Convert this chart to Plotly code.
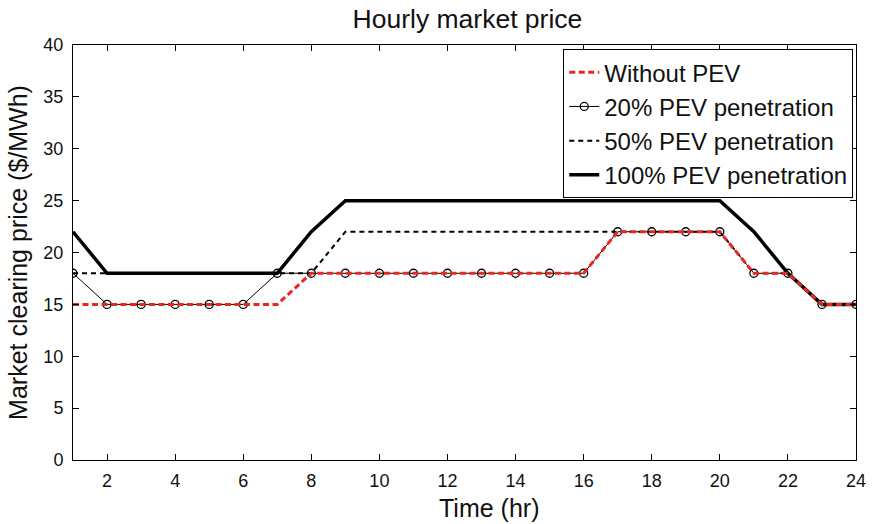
import plotly.graph_objects as go

hours = list(range(1, 25))
without_pev = [15, 15, 15, 15, 15, 15, 15, 18, 18, 18, 18, 18, 18, 18, 18, 18, 22, 22, 22, 22, 18, 18, 15, 15]
pev20 = [18, 15, 15, 15, 15, 15, 18, 18, 18, 18, 18, 18, 18, 18, 18, 18, 22, 22, 22, 22, 18, 18, 15, 15]
pev50 = [18, 18, 18, 18, 18, 18, 18, 18, 22, 22, 22, 22, 22, 22, 22, 22, 22, 22, 22, 22, 18, 18, 15, 15]
pev100 = [22, 18, 18, 18, 18, 18, 18, 22, 25, 25, 25, 25, 25, 25, 25, 25, 25, 25, 25, 25, 22, 18, 15, 15]

x_ticks = list(range(2, 25, 2))
y_ticks = list(range(0, 41, 5))

fig = go.Figure()
fig.add_trace(go.Scatter(x=hours, y=pev100, mode="lines", name="100% PEV penetration",
                         line=dict(color="black", width=3.5), legendrank=4))
fig.add_trace(go.Scatter(x=hours, y=pev50, mode="lines", name="50% PEV penetration",
                         line=dict(color="black", width=2, dash="5px,4px"), legendrank=3))
fig.add_trace(go.Scatter(x=hours, y=pev20, mode="lines+markers", name="20% PEV penetration",
                         line=dict(color="black", width=1),
                         marker=dict(symbol="circle-open", size=8, color="black", line=dict(width=1.3)),
                         legendrank=2))
fig.add_trace(go.Scatter(x=hours, y=without_pev, mode="lines", name="Without PEV",
                         line=dict(color="#e8281e", width=3, dash="6px,3.5px"), legendrank=1))

axis_common = dict(showgrid=False, zeroline=False, showline=True, linecolor="black", linewidth=1,
                   mirror="ticks", ticks="inside", ticklen=6, tickcolor="black", tickwidth=1,
                   tickfont=dict(size=18, color="#111"))

fig.update_layout(
    width=877, height=524,
    margin=dict(l=73, r=11, t=45, b=64),
    paper_bgcolor="white", plot_bgcolor="white",
    font=dict(family="Liberation Sans, Arial, sans-serif", color="#111"),
    title=dict(text="Hourly market price", x=0.533, xanchor="center", y=0.965, yanchor="middle",
               font=dict(size=26.5)),
    xaxis=dict(range=[1, 24], tickvals=x_ticks, ticklabelstandoff=4, **axis_common),
    yaxis=dict(range=[0, 40], tickvals=y_ticks, ticklabelstandoff=5,
               title=dict(text="Market clearing price ($/MWh)", font=dict(size=25), standoff=8),
               **axis_common),
    legend=dict(x=0.9965, xanchor="right", y=0.99, yanchor="top", bgcolor="white",
                bordercolor="black", borderwidth=1, font=dict(size=24), tracegroupgap=0,
                itemwidth=30),
    annotations=[dict(text="Time (hr)", xref="paper", yref="paper",
                      x=(494 - 73) / 793, y=(460 - 508) / 415, xanchor="center", yanchor="middle",
                      showarrow=False, font=dict(size=25))],
    showlegend=True,
)

fig.write_html("out.html")
